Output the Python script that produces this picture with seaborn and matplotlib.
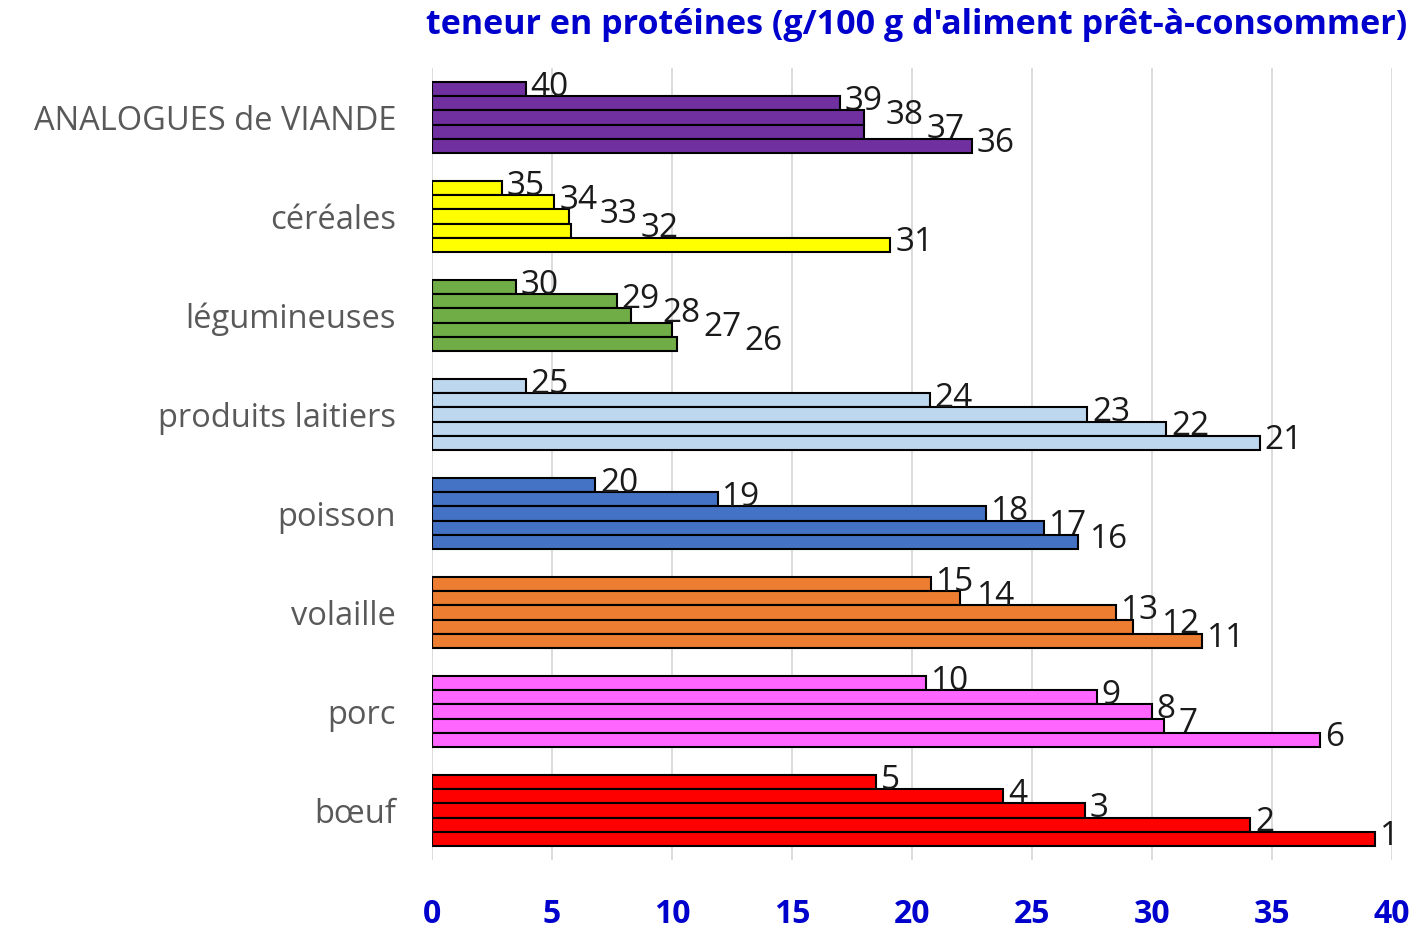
import matplotlib
matplotlib.use('Agg')
import matplotlib.pyplot as plt
import pandas as pd
import seaborn as sns

sns.set_theme(style="white")
plt.rcParams['font.family'] = ['Open Sans', 'DejaVu Sans']

# ==========================
# DONNÉES
# ==========================
categories = ['ANALOGUES de VIANDE', 'céréales', 'légumineuses', 'produits laitiers',
              'poisson', 'volaille', 'porc', 'bœuf']

viande = [3.9, 17.0, 18.0, 18.0, 22.5]
cereales = [2.9, 5.1, 5.7, 5.8, 19.1]
legumineuses = [3.5, 7.7, 8.3, 10.0, 10.2]
laitiers = [3.9, 20.75, 27.3, 30.6, 34.5]
poisson = [6.8, 11.9, 23.1, 25.5, 26.9]
volaille = [20.8, 22.0, 28.5, 29.2, 32.1]
porc = [20.6, 27.7, 30.0, 30.5, 37.0]
boeuf = [18.5, 23.8, 27.2, 34.1, 39.3]

rangs_viande = [40, 39, 38, 37, 36]
rangs_cereales = [35, 34, 33, 32, 31]
rangs_legumineuses = [30, 29, 28, 27, 26]
rangs_laitiers = [25, 24, 23, 22, 21]
rangs_poisson = [20, 19, 18, 17, 16]
rangs_volaille = [15, 14, 13, 12, 11]
rangs_porc = [10, 9, 8, 7, 6]
rangs_boeuf = [5, 4, 3, 2, 1]

couleurs = ['#7030A0', '#FFFF00', '#70AD47', '#BDD7EE',
            '#4472C4', '#ED7D31', '#FF66FF', '#FF0000']

valeurs = [viande, cereales, legumineuses, laitiers, poisson, volaille, porc, boeuf]
rangs = [rangs_viande, rangs_cereales, rangs_legumineuses, rangs_laitiers,
         rangs_poisson, rangs_volaille, rangs_porc, rangs_boeuf]

lignes = []
for cat, vals, rks in zip(categories, valeurs, rangs):
    for k, (v, r) in enumerate(zip(vals, rks)):
        lignes.append({"categorie": cat, "position": f"p{k}", "valeur": v, "rang": r})
df = pd.DataFrame(lignes)
positions = [f"p{k}" for k in range(5)]

# ==========================
# GRAPHIQUE
# ==========================
fig = plt.figure(figsize=(14.19, 9.30), dpi=100)
ax = fig.add_axes([432 / 1419, 1 - 860 / 930, 960 / 1419, 792 / 930])

sns.barplot(data=df, y='categorie', x='valeur', hue='position', hue_order=positions,
            order=categories, orient='h', dodge=True, width=0.71, legend=False,
            edgecolor='black', linewidth=1.5, saturation=1, ax=ax)

# barres par (catégorie, position) pour recolorer et étiqueter
barres = {}
for j, cont in enumerate(ax.containers):
    for bar in cont:
        i = int(round(bar.get_y() + bar.get_height() / 2))
        bar.set_facecolor(couleurs[i])
        barres[(i, j)] = bar

# étiquettes de rang, décalées vers la droite pour éviter les chevauchements
for i, cat in enumerate(categories):
    droite = -1
    for j in range(5):
        bar = barres[(i, j)]
        texte = str(rangs[i][j])
        x = max(bar.get_width() + 0.2, droite + 0.1)
        ax.text(x, bar.get_y() + bar.get_height() / 2 - 0.02, texte, ha='left', va='center',
                fontsize=24, color='#1A1A1A', zorder=5)
        droite = x + 0.8 * len(texte)

ax.set_xlim(0, 40)
ax.set_xticks(range(0, 41, 5))
ax.set_xlabel('')
ax.set_ylabel('')
ax.grid(axis='x', color='#D9D9D9', linewidth=1.3)
ax.set_axisbelow(True)
sns.despine(ax=ax, left=True, bottom=True)
ax.tick_params(axis='x', length=0, pad=27, labelsize=23, labelcolor='#0000CC')
for t in ax.get_xticklabels():
    t.set_fontweight('bold')
ax.tick_params(axis='y', length=0, pad=26, labelsize=23.5, labelcolor='#595959')

fig.text(0.992, 1 - 25 / 930, "teneur en protéines (g/100 g d'aliment prêt-à-consommer)",
         ha='right', va='center', fontsize=24.5, fontweight='bold', color='#0000CC')

plt.savefig('out.png', dpi=100)
plt.close()
